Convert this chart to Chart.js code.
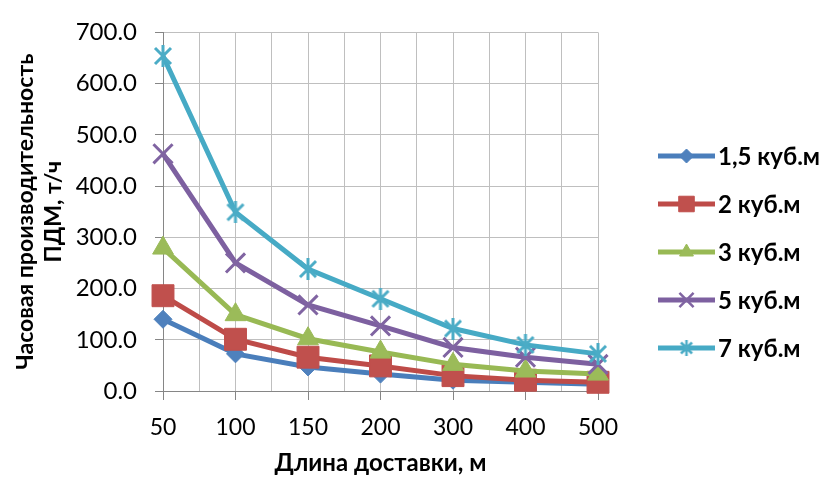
<!DOCTYPE html>
<html>
<head>
<meta charset="utf-8">
<script src="https://cdn.jsdelivr.net/npm/chart.js@4.4.1/dist/chart.umd.min.js"></script>
<style>
  html, body { margin: 0; padding: 0; background: #fff; }
  #wrap { width: 824px; height: 479px; }
</style>
</head>
<body>
<div id="wrap"><canvas id="chart"></canvas></div>
<script>
// Длина доставки, м
const categories = ['50', '100', '150', '200', '300', '400', '500'];
const seriesNames = ['1,5 куб.м', '2 куб.м', '3 куб.м', '5 куб.м', '7 куб.м'];

// Часовая производительность ПДМ, т/ч
const bucket15 = [140, 72.5, 47, 33, 21, 17, 13];
const bucket2  = [186, 101, 66, 49, 30, 21, 17];
const bucket3  = [279, 149, 102, 76, 52, 39, 33];
const bucket5  = [463, 250, 168, 127, 85, 66, 52];
const bucket7  = [654, 349, 238, 180, 122, 90, 72.5];

const FONT = 'Lato, "Noto Sans", "DejaVu Sans", sans-serif';

// Excel-like asterisk marker (X plus vertical bar)
function makeAsterisk(size, color, lw) {
    const c = document.createElement('canvas');
    c.width = size; c.height = size;
    const g = c.getContext('2d');
    const m = lw, s = size - lw;
    g.strokeStyle = color;
    g.lineWidth = lw;
    g.lineCap = 'butt';
    g.beginPath();
    g.moveTo(m, m); g.lineTo(s, s);
    g.moveTo(s, m); g.lineTo(m, s);
    g.moveTo(size / 2, 0); g.lineTo(size / 2, size);
    g.stroke();
    return c;
}

const styles = [
    { line: '#4A7EBB', fill: '#4F81BD', point: 'rectRot', r: 9, legendR: 7 },
    { line: '#BE4B48', fill: '#C0504D', point: 'rect', r: 15.5, legendR: 11 },
    { line: '#98B954', fill: '#9BBB59', point: 'triangle', r: 12, legendR: 8 },
    { line: '#7D60A0', fill: '#8064A2', point: 'crossRot', r: 13.5, legendR: 10 },
    { line: '#46AAC5', fill: '#4BACC6', point: makeAsterisk(22, '#4BACC6', 3), r: 11,
      legend: makeAsterisk(16, '#4BACC6', 2.5) }
];

const seriesData = [bucket15, bucket2, bucket3, bucket5, bucket7];

const makeDataset = (i) => ({
    label: seriesNames[i],
    data: seriesData[i].map((v, k) => ({ x: k, y: v })),
    borderColor: styles[i].line,
    backgroundColor: styles[i].fill,
    pointBackgroundColor: styles[i].fill,
    pointBorderColor: styles[i].fill,
    pointBorderWidth: (i >= 3) ? 3 : 1,
    pointStyle: styles[i].point,
    pointRadius: styles[i].r,
    borderWidth: 5,
    tension: 0,
    clip: false,
    order: seriesNames.length - i
});

// legend drawn to the right: line sample with marker + label
const sideLegend = {
    id: 'sideLegend',
    afterDraw(chart) {
        const ctx = chart.ctx;
        const x0 = chart.chartArea.right + 60;
        const y0 = 156, step = 48, len = 57;
        chart.data.datasets.forEach((ds, i) => {
            const st = styles[i];
            const y = y0 + i * step;
            ctx.save();
            ctx.strokeStyle = st.line;
            ctx.lineWidth = 5;
            ctx.beginPath();
            ctx.moveTo(x0, y);
            ctx.lineTo(x0 + len, y);
            ctx.stroke();
            ctx.fillStyle = st.fill;
            ctx.strokeStyle = st.fill;
            ctx.lineWidth = (i >= 3) ? 2.5 : 1;
            Chart.helpers.drawPoint(ctx, {
                pointStyle: st.legend || st.point,
                radius: st.legendR || 8,
                borderWidth: ctx.lineWidth,
                rotation: 0
            }, x0 + len / 2, y);
            ctx.fillStyle = '#000';
            ctx.font = 'bold 24px ' + FONT;
            ctx.textBaseline = 'middle';
            ctx.textAlign = 'left';
            ctx.fillText(ds.label, x0 + len + 3, y + 1);
            ctx.restore();
        });
    }
};

const halfSteps = [];
for (let k = 0; k <= (categories.length - 1) * 2; k++) halfSteps.push(k / 2);

new Chart(document.getElementById('chart'), {
    type: 'line',
    data: { datasets: seriesData.map((_, i) => makeDataset(i)) },
    options: {
        responsive: true,
        maintainAspectRatio: false,
        animation: false,
        layout: { padding: { top: 21, right: 226, left: 0, bottom: 0 } },
        plugins: { legend: { display: false }, tooltip: { enabled: false } },
        scales: {
            x: {
                type: 'linear',
                min: 0,
                max: categories.length - 1,
                afterBuildTicks: (s) => { s.ticks = halfSteps.map(v => ({ value: v })); },
                afterFit: (s) => { s.height = 88; },
                ticks: {
                    autoSkip: false,
                    maxRotation: 0,
                    color: '#000',
                    padding: 14,
                    font: { size: 23, family: FONT },
                    callback: (v) => Number.isInteger(v) ? categories[v] : ''
                },
                grid: {
                    color: '#BFBFBF',
                    tickLength: 9,
                    tickColor: (c) => (c.tick && Number.isInteger(c.tick.value)) ? '#868686' : 'rgba(0,0,0,0)'
                },
                border: { color: '#868686' },
                title: {
                    display: true,
                    text: 'Длина доставки, м',
                    color: '#000',
                    font: { size: 24, weight: 'bold', family: FONT },
                    padding: { top: 0, bottom: 1 }
                }
            },
            y: {
                min: 0,
                max: 700,
                afterFit: (s) => { s.width = 163; },
                ticks: {
                    stepSize: 100,
                    color: '#000',
                    padding: 18,
                    font: { size: 24, family: FONT },
                    callback: (v) => v.toFixed(1)
                },
                grid: { color: '#BFBFBF', tickLength: 8, tickColor: '#868686' },
                border: { color: '#868686' },
                title: {
                    display: true,
                    text: ['Часовая производительность', 'ПДМ, т/ч'],
                    color: '#000',
                    font: { size: 23, weight: 'bold', family: FONT, lineHeight: 1.2 },
                    padding: { top: 12, bottom: 0 }
                }
            }
        }
    },
    plugins: [sideLegend]
});
</script>
</body>
</html>
